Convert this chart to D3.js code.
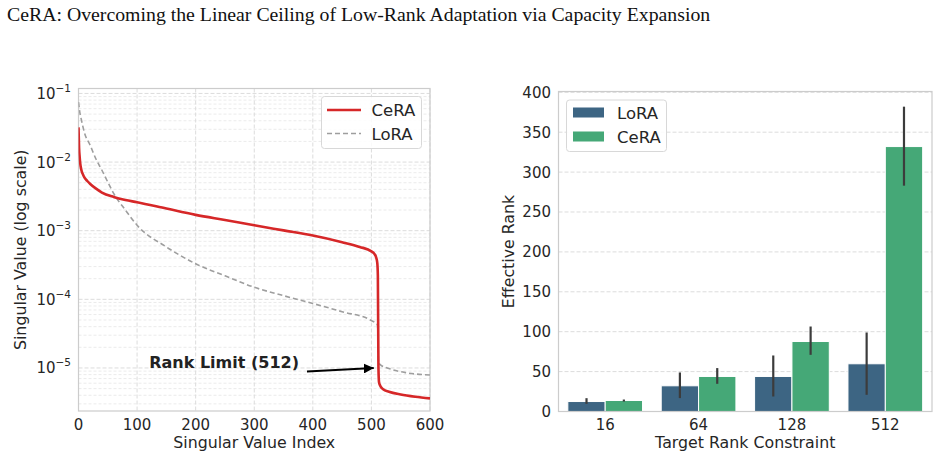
<!DOCTYPE html>
<html>
<head>
<meta charset="utf-8">
<script src="https://cdn.jsdelivr.net/npm/d3@7"></script>
<style>
  body { margin: 0; background: #fff; }
  svg { display: block; }
  svg text { font-family: "DejaVu Sans", Verdana, sans-serif; }
  svg text.title { font-family: "Liberation Serif", "Times New Roman", serif; }
</style>
</head>
<body>
<svg id="chart" width="939" height="459"></svg>
<script>
const width = 939;
const height = 459;

// left panel: singular value spectra (index, value)
const ceraIdx = [0, 1, 2, 3, 5, 8, 10, 15, 20, 30, 40, 60, 80, 100, 150, 200, 250, 300, 350, 400, 450, 480, 500, 505, 508, 510, 511, 512, 513, 515, 520, 530, 550, 575, 600];
const ceraVal = [0.032, 0.016, 0.0118, 0.0095, 0.0076, 0.0065, 0.006, 0.0053, 0.0048, 0.0041, 0.0036, 0.0031, 0.0028, 0.0026, 0.0021, 0.0017, 0.00143, 0.0012, 0.00101, 0.00085, 0.00068, 0.00058, 0.0005, 0.00046, 0.00041, 0.00034, 0.00022, 0.00001, 0.0000062, 0.0000055, 0.0000049, 0.0000045, 0.0000041, 0.0000038, 0.0000036];
const loraIdx = [0, 2, 5, 10, 20, 30, 40, 50, 60, 80, 100, 150, 200, 250, 300, 350, 400, 450, 500, 510, 511, 512, 515, 530, 560, 600];
const loraVal = [0.075, 0.055, 0.041, 0.027, 0.0175, 0.011, 0.0076, 0.0051, 0.0035, 0.002, 0.0012, 0.00058, 0.00033, 0.00022, 0.00015, 0.000113, 0.000087, 0.000066, 0.000049, 0.000043, 0.000035, 0.000012, 0.0000112, 0.0000098, 0.0000085, 0.0000079];

// right panel: effective rank
const rankCats = ["16", "64", "128", "512"];
const loraMean = [12.5, 32.2, 43.9, 59.8];
const loraLo = [9.6, 16.8, 18.8, 20.9];
const loraHi = [16.7, 48.9, 70.2, 99];
const ceraMean = [13.8, 43.9, 87.7, 332];
const ceraLo = [12.5, 34.7, 71, 283];
const ceraHi = [15, 54.4, 106.5, 382];

const textCol = "#262626";
const gridCol = "#dcdcdc";
const red = "#d62728";
const loraCol = "#3d6583";
const ceraCol = "#45a877";

const svg = d3.select("#chart");

svg.append("text")
  .attr("class", "title")
  .attr("x", 7).attr("y", 21)
  .style("font-size", "19.8px")
  .attr("fill", "#111")
  .text("CeRA: Overcoming the Linear Ceiling of Low-Rank Adaptation via Capacity Expansion");

// ---------- left chart ----------
const L = { x0: 78.5, x1: 430, y0: 88.5, y1: 411 };
const x = d3.scaleLinear().domain([0, 600]).range([L.x0, L.x1]);
const y = d3.scaleLog().domain([2.36e-6, 1.18e-1]).range([L.y1, L.y0]);

const gl = svg.append("g");

// minor grid
const minors = [];
for (let e = -6; e <= -1; e++) {
  for (let m = 2; m <= 9; m++) {
    const v = m * Math.pow(10, e);
    if (v > y.domain()[0] && v < y.domain()[1]) minors.push(v);
  }
}
gl.selectAll(".minor").data(minors).join("line")
  .attr("x1", L.x0).attr("x2", L.x1)
  .attr("y1", d => y(d)).attr("y2", d => y(d))
  .attr("stroke", "#e6e6e6").attr("stroke-width", 0.8)
  .attr("stroke-dasharray", "3,2");

const majors = [1e-1, 1e-2, 1e-3, 1e-4, 1e-5];
gl.selectAll(".major").data(majors).join("line")
  .attr("x1", L.x0).attr("x2", L.x1)
  .attr("y1", d => y(d)).attr("y2", d => y(d))
  .attr("stroke", gridCol).attr("stroke-width", 1)
  .attr("stroke-dasharray", "4,2");

const xt = [0, 100, 200, 300, 400, 500, 600];
gl.selectAll(".vgrid").data(xt).join("line")
  .attr("x1", d => x(d)).attr("x2", d => x(d))
  .attr("y1", L.y0).attr("y2", L.y1)
  .attr("stroke", gridCol).attr("stroke-width", 1)
  .attr("stroke-dasharray", "4,2");

gl.append("rect")
  .attr("x", L.x0).attr("y", L.y0)
  .attr("width", L.x1 - L.x0).attr("height", L.y1 - L.y0)
  .attr("fill", "none").attr("stroke", "#cccccc").attr("stroke-width", 1.2);

const line = d3.line().x(d => x(d[0])).y(d => y(d[1])).curve(d3.curveMonotoneX);

svg.append("clipPath").attr("id", "clipL")
  .append("rect").attr("x", L.x0).attr("y", L.y0)
  .attr("width", L.x1 - L.x0).attr("height", L.y1 - L.y0);

gl.append("path")
  .datum(loraIdx.map((d, i) => [d, loraVal[i]]))
  .attr("d", line)
  .attr("clip-path", "url(#clipL)")
  .attr("fill", "none").attr("stroke", "#9e9e9e")
  .attr("stroke-width", 1.6).attr("stroke-dasharray", "5,3");

gl.append("path")
  .datum(ceraIdx.map((d, i) => [d, ceraVal[i]]))
  .attr("d", line)
  .attr("clip-path", "url(#clipL)")
  .attr("fill", "none").attr("stroke", red)
  .attr("stroke-width", 2.6);

// ticks
gl.selectAll(".xtl").data(xt).join("text")
  .attr("x", d => x(d)).attr("y", 430)
  .attr("text-anchor", "middle")
  .attr("fill", textCol).style("font-size", "15px")
  .text(d => d);

const ylab = gl.selectAll(".ytl").data(majors).join("text")
  .attr("x", 71).attr("y", d => y(d) + 5.5)
  .attr("text-anchor", "end")
  .attr("fill", textCol).style("font-size", "15px");
ylab.append("tspan").text("10");
ylab.append("tspan").attr("dy", -7).style("font-size", "10.5px")
  .text(d => "\u2212" + Math.round(-Math.log10(d)));

gl.append("text")
  .attr("x", x(300)).attr("y", 448)
  .attr("text-anchor", "middle")
  .attr("fill", textCol).style("font-size", "15.8px")
  .text("Singular Value Index");

gl.append("text")
  .attr("transform", `translate(26,${(L.y0 + L.y1) / 2}) rotate(-90)`)
  .attr("text-anchor", "middle")
  .attr("fill", textCol).style("font-size", "15.8px")
  .text("Singular Value (log scale)");

// annotation
svg.append("defs").append("marker")
  .attr("id", "arr").attr("viewBox", "0 0 10 10")
  .attr("refX", 10).attr("refY", 5)
  .attr("markerWidth", 5).attr("markerHeight", 5)
  .attr("markerUnits", "strokeWidth")
  .attr("orient", "auto")
  .append("path").attr("d", "M0,0 L10,5 L0,10 z").attr("fill", "#000");

gl.append("line")
  .attr("x1", x(390)).attr("y1", y(8.9e-6))
  .attr("x2", x(504)).attr("y2", y(1.0e-5))
  .attr("stroke", "#000").attr("stroke-width", 2)
  .attr("marker-end", "url(#arr)");

gl.append("text")
  .attr("x", 299).attr("y", 368)
  .attr("text-anchor", "end")
  .attr("fill", "#222").style("font-size", "16px").style("font-weight", "bold")
  .text("Rank Limit (512)");

// legend
const lg = gl.append("g");
lg.append("rect").attr("x", 321.5).attr("y", 96.5).attr("width", 100).attr("height", 52)
  .attr("rx", 3).attr("fill", "#fff").attr("fill-opacity", 0.85)
  .attr("stroke", "#d8d8d8");
lg.append("line").attr("x1", 327).attr("x2", 361).attr("y1", 110).attr("y2", 110)
  .attr("stroke", red).attr("stroke-width", 2.6);
lg.append("line").attr("x1", 327).attr("x2", 361).attr("y1", 133.5).attr("y2", 133.5)
  .attr("stroke", "#9e9e9e").attr("stroke-width", 1.6).attr("stroke-dasharray", "5,3");
lg.append("text").attr("x", 371.5).attr("y", 116).attr("fill", textCol)
  .style("font-size", "16.5px").text("CeRA");
lg.append("text").attr("x", 371.5).attr("y", 139.5).attr("fill", textCol)
  .style("font-size", "16.5px").text("LoRA");

// ---------- right chart ----------
const R = { x0: 558.5, x1: 932, y0: 91.5, y1: 411.5 };
const xb = d3.scaleBand().domain(rankCats).range([R.x0, R.x1]).padding(0);
const xs = d3.scaleBand().domain(["LoRA", "CeRA"]).range([0, xb.bandwidth() * 0.8]);
const yb = d3.scaleLinear().domain([0, 401]).range([R.y1, R.y0]);

const gr = svg.append("g");
const yt = d3.range(0, 401, 50);

gr.selectAll(".hg").data(yt.slice(1)).join("line")
  .attr("x1", R.x0).attr("x2", R.x1)
  .attr("y1", d => yb(d)).attr("y2", d => yb(d))
  .attr("stroke", gridCol).attr("stroke-width", 1)
  .attr("stroke-dasharray", "4,2");

const series = [
  { name: "LoRA", mean: loraMean, lo: loraLo, hi: loraHi, col: loraCol },
  { name: "CeRA", mean: ceraMean, lo: ceraLo, hi: ceraHi, col: ceraCol }
];

series.forEach(s => {
  const off = xb.bandwidth() * 0.1;
  gr.selectAll(".b" + s.name).data(rankCats).join("rect")
    .attr("x", d => xb(d) + off + xs(s.name))
    .attr("y", (d, i) => yb(s.mean[i]))
    .attr("width", xs.bandwidth())
    .attr("height", (d, i) => yb(0) - yb(s.mean[i]))
    .attr("fill", s.col)
    .attr("stroke", "#fff").attr("stroke-width", 1);
  gr.selectAll(".e" + s.name).data(rankCats).join("line")
    .attr("x1", d => xb(d) + off + xs(s.name) + xs.bandwidth() / 2)
    .attr("x2", d => xb(d) + off + xs(s.name) + xs.bandwidth() / 2)
    .attr("y1", (d, i) => yb(s.lo[i]))
    .attr("y2", (d, i) => yb(s.hi[i]))
    .attr("stroke", "#3c3c3c").attr("stroke-width", 2.2);
});

gr.append("rect")
  .attr("x", R.x0).attr("y", R.y0)
  .attr("width", R.x1 - R.x0).attr("height", R.y1 - R.y0)
  .attr("fill", "none").attr("stroke", "#cccccc").attr("stroke-width", 1.2);

gr.selectAll(".xtl").data(rankCats).join("text")
  .attr("x", d => xb(d) + xb.bandwidth() / 2).attr("y", 430)
  .attr("text-anchor", "middle")
  .attr("fill", textCol).style("font-size", "15px")
  .text(d => d);

gr.selectAll(".ytl").data(yt).join("text")
  .attr("x", 551).attr("y", d => yb(d) + 5.5)
  .attr("text-anchor", "end")
  .attr("fill", textCol).style("font-size", "15px")
  .text(d => d);

gr.append("text")
  .attr("x", (R.x0 + R.x1) / 2).attr("y", 448)
  .attr("text-anchor", "middle")
  .attr("fill", textCol).style("font-size", "15.8px")
  .text("Target Rank Constraint");

gr.append("text")
  .attr("transform", `translate(514,${(R.y0 + R.y1) / 2}) rotate(-90)`)
  .attr("text-anchor", "middle")
  .attr("fill", textCol).style("font-size", "15.8px")
  .text("Effective Rank");

const lg2 = gr.append("g");
lg2.append("rect").attr("x", 566.5).attr("y", 100).attr("width", 100).attr("height", 51.5)
  .attr("rx", 3).attr("fill", "#fff").attr("fill-opacity", 0.85)
  .attr("stroke", "#d8d8d8");
series.forEach((s, i) => {
  lg2.append("rect").attr("x", 573).attr("y", 107.5 + i * 24).attr("width", 31).attr("height", 10)
    .attr("fill", s.col);
  lg2.append("text").attr("x", 617).attr("y", 118.5 + i * 24).attr("fill", textCol)
    .style("font-size", "16.5px").text(s.name);
});
</script>
</body>
</html>
